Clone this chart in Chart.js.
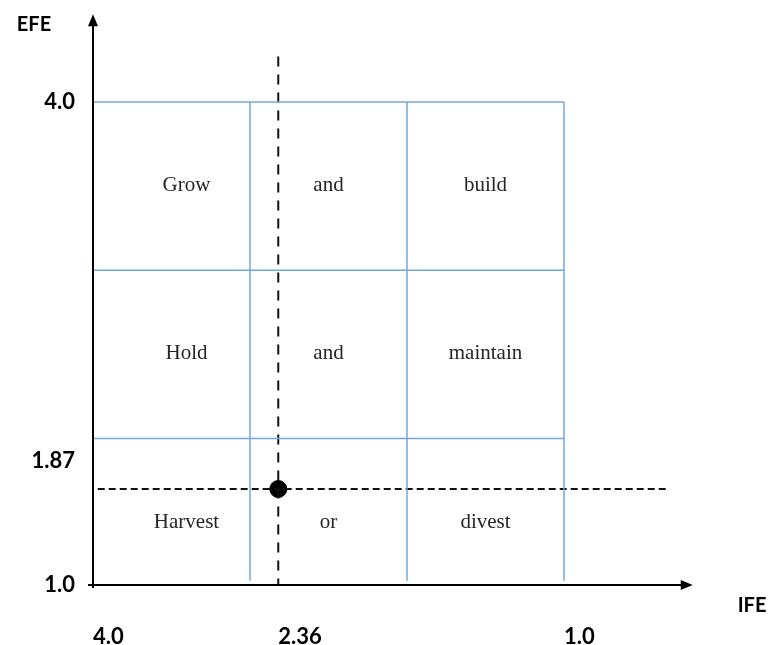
<!DOCTYPE html>
<html>
<head>
<meta charset="utf-8">
<script src="https://cdn.jsdelivr.net/npm/chart.js@4.4.1/dist/chart.umd.min.js"></script>
<style>
  html, body { margin: 0; padding: 0; background: #fff; }
  #wrap { width: 768px; height: 645px; }
</style>
</head>
<body>
<div id="wrap"><canvas id="ieChart"></canvas></div>
<script>
// IE matrix: IFE score on x (4.0 strong -> 1.0 weak), EFE score on y
const ifeTickLabels = ['4.0', '2.36', '1.0'];
const efeTickLabels = ['4.0', '1.87', '1.0'];
const colBounds = [4.0, 3.0, 2.0, 1.0];
const rowBounds = [4.0, 3.0, 2.0, 1.0];
const cellWords = [
  ['Grow', 'and', 'build'],
  ['Hold', 'and', 'maintain'],
  ['Harvest', 'or', 'divest']
];
// where the firm is marked on the grid (as drawn)
const firmPoint = { x: 2.82, y: 1.70 };

const X_MIN = 0, X_MAX = 4.0;
const Y_MIN = 1.13, Y_MAX = 4.42;

const BLUE = '#6FA8DC';
const labelFont = { family: 'Lato', size: 22, weight: 'bold' };

function segment(points, color, width, dash) {
  return {
    type: 'line',
    data: points,
    borderColor: color,
    borderWidth: width,
    borderDash: dash || [],
    pointRadius: 0,
    fill: false,
    tension: 0
  };
}

const datasets = [];
// horizontal grid lines
rowBounds.slice(0, 3).forEach(r => {
  datasets.push(segment([{ x: 4.03, y: r }, { x: colBounds[3], y: r }], BLUE, 1.5));
});
// vertical grid lines
colBounds.slice(1).forEach(c => {
  datasets.push(segment([{ x: c, y: 1.155 }, { x: c, y: rowBounds[0] }], BLUE, 1.5));
});
// dashed guides through the firm's position
datasets.push(segment([{ x: firmPoint.x, y: 4.27 }, { x: firmPoint.x, y: Y_MIN }], '#111', 2, [10, 8]));
datasets.push(segment([{ x: 3.97, y: firmPoint.y }, { x: 0.34, y: firmPoint.y }], '#111', 2, [7, 4]));
// the firm
datasets.push({
  type: 'scatter',
  data: [firmPoint],
  pointRadius: 8.5,
  pointBackgroundColor: '#000',
  pointBorderColor: '#000'
});

const matrixDecor = {
  id: 'matrixDecor',
  afterDatasetsDraw(chart) {
    const { ctx, scales: { x, y } } = chart;
    const ax = x.getPixelForValue(4.0);
    const ay = y.bottom;
    ctx.save();
    ctx.strokeStyle = '#000';
    ctx.fillStyle = '#000';
    ctx.lineWidth = 2;

    // y axis with arrow
    const yTip = y.getPixelForValue(4.52);
    ctx.beginPath();
    ctx.moveTo(ax, ay + 3);
    ctx.lineTo(ax, yTip + 10);
    ctx.stroke();
    ctx.beginPath();
    ctx.moveTo(ax, yTip);
    ctx.lineTo(ax - 5, yTip + 12);
    ctx.lineTo(ax + 5, yTip + 12);
    ctx.closePath();
    ctx.fill();

    // x axis with arrow
    const xTip = x.getPixelForValue(0.18);
    ctx.beginPath();
    ctx.moveTo(ax - 5, ay);
    ctx.lineTo(xTip - 10, ay);
    ctx.stroke();
    ctx.beginPath();
    ctx.moveTo(xTip, ay);
    ctx.lineTo(xTip - 12, ay - 5);
    ctx.lineTo(xTip - 12, ay + 5);
    ctx.closePath();
    ctx.fill();

    // axis names
    ctx.font = 'bold 20px Lato';
    ctx.textAlign = 'center';
    ctx.textBaseline = 'middle';
    ctx.fillText('EFE', 34, 25);
    ctx.fillText('IFE', 752, 606);

    // strategy words in the cells
    ctx.font = '21px "Liberation Serif"';
    ctx.fillStyle = '#262626';
    ctx.textBaseline = 'alphabetic';
    cellWords.forEach((row, i) => {
      const cy = y.getPixelForValue((rowBounds[i] + rowBounds[i + 1]) / 2) + 5;
      row.forEach((word, j) => {
        const cx = x.getPixelForValue((colBounds[j] + colBounds[j + 1]) / 2) + (j === 0 ? 15 : 0);
        ctx.fillText(word, cx, cy);
      });
    });
    ctx.restore();
  }
};

new Chart(document.getElementById('ieChart').getContext('2d'), {
  type: 'scatter',
  data: { datasets },
  options: {
    responsive: true,
    maintainAspectRatio: false,
    animation: false,
    layout: { padding: { top: 10, right: 47, bottom: 0, left: 0 } },
    plugins: { legend: { display: false }, tooltip: { enabled: false } },
    scales: {
      x: {
        type: 'linear',
        reverse: true,
        min: X_MIN,
        max: X_MAX,
        grid: { display: false, drawTicks: false },
        border: { display: false },
        afterBuildTicks: s => { s.ticks = [{ value: 4.0 }, { value: firmPoint.x }, { value: 1.0 }]; },
        afterFit: s => { s.height = 60; },
        ticks: {
          autoSkip: false,
          maxRotation: 0,
          align: 'start',
          padding: 39,
          color: '#000',
          font: labelFont,
          callback: (v, i) => ifeTickLabels[i]
        }
      },
      y: {
        type: 'linear',
        min: Y_MIN,
        max: Y_MAX,
        grid: { display: false, drawTicks: false },
        border: { display: false },
        afterBuildTicks: s => {
          s.ticks = efeTickLabels.map(t => ({ value: Math.max(parseFloat(t), Y_MIN) }));
        },
        afterFit: s => { s.width = 93; },
        ticks: {
          autoSkip: false,
          padding: 18,
          color: '#000',
          font: labelFont,
          callback: (v, i) => efeTickLabels[i]
        }
      }
    }
  },
  plugins: [matrixDecor]
});
</script>
</body>
</html>
